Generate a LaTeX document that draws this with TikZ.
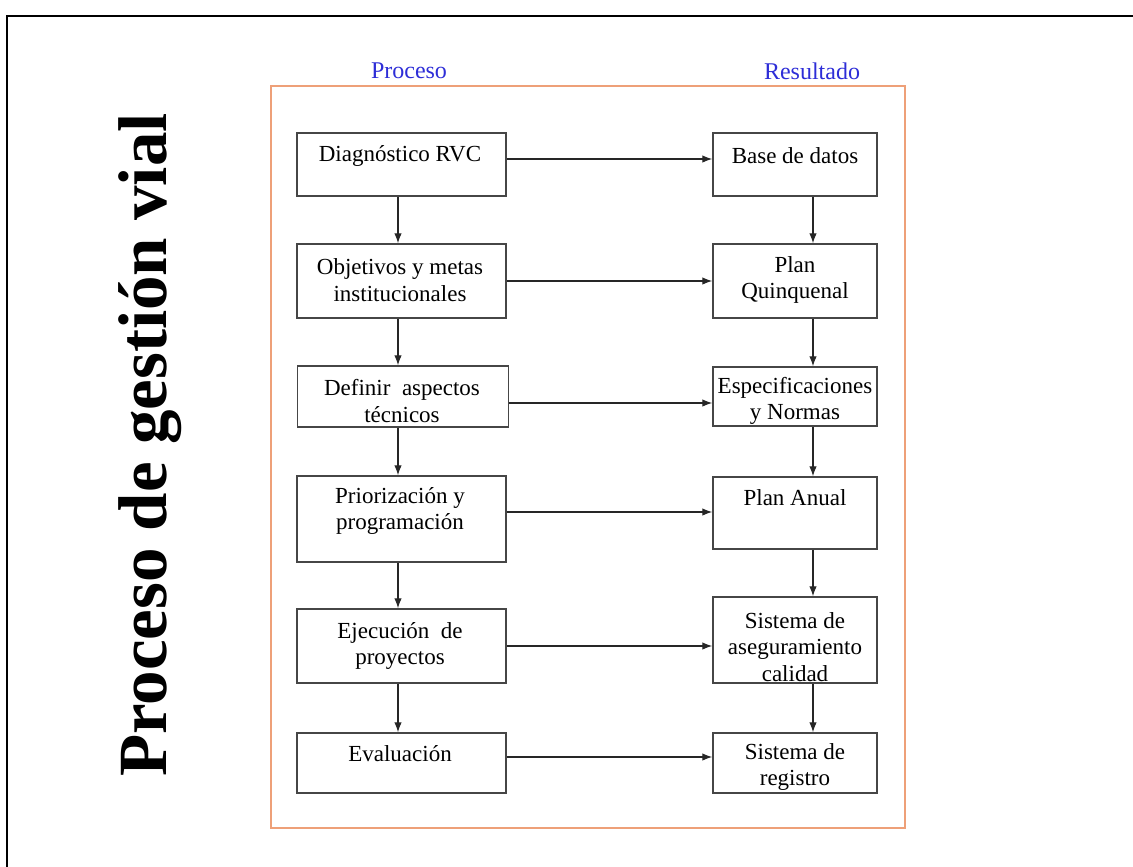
\documentclass[tikz,border=0pt]{standalone}
\usepackage{fontspec}
\setmainfont{Liberation Serif}
\usetikzlibrary{arrows.meta}
\definecolor{frameorange}{RGB}{238,160,120}
\definecolor{headblue}{RGB}{45,45,215}
\definecolor{boxgray}{RGB}{70,70,70}
\tikzset{
  procbox/.style={draw=boxgray, line width=1.5pt, rectangle, inner sep=0pt},
  boxtext/.style={align=center, inner sep=0pt, font=\fontsize{23}{26.5}\selectfont},
  headtext/.style={text=headblue, inner sep=0pt, font=\fontsize{24}{28}\selectfont},
  arr/.style={draw=black!85, line width=1.2pt, -{Latex[length=10pt,width=7.5pt]}},
}
\begin{document}
\begin{tikzpicture}[x=1pt,y=-1pt]
\useasboundingbox (0,0) rectangle (1133,867);
% outer frame (top and left visible)
\coordinate (fa) at (7,867);
\coordinate (fb) at (7,16);
\coordinate (fc) at (1133,16);
\draw[black, line width=2.2pt] (fa) -- (fb) -- (fc);
% title
\node[rotate=90, anchor=base, inner sep=0pt, font=\fontsize{69}{72}\selectfont\bfseries] (title) at (166,445) {Proceso de gestión vial};
% orange frame
\node[draw=frameorange, line width=1.3pt, minimum width=634pt, minimum height=742pt, inner sep=0pt] (orange) at (588,457) {};
% headers
\node[headtext] (hp) at (409,71) {Proceso};
\node[headtext] (hr) at (812,71) {Resultado};
% left boxes
\node[procbox, minimum width=209pt, minimum height=63pt] (l1) at (401.5,164.5) {};
\node[procbox, minimum width=209pt, minimum height=74pt] (l2) at (401.5,281) {};
\node[procbox, minimum width=211pt, minimum height=61pt] (l3) at (403,396.5) {};
\node[procbox, minimum width=209pt, minimum height=86pt] (l4) at (401.5,519) {};
\node[procbox, minimum width=209pt, minimum height=74pt] (l5) at (401.5,646) {};
\node[procbox, minimum width=209pt, minimum height=60pt] (l6) at (401.5,763) {};
% right boxes
\node[procbox, minimum width=164pt, minimum height=63pt] (r1) at (795,164.5) {};
\node[procbox, minimum width=164pt, minimum height=74pt] (r2) at (795,281) {};
\node[procbox, minimum width=164pt, minimum height=59pt] (r3) at (795,396.5) {};
\node[procbox, minimum width=164pt, minimum height=72pt] (r4) at (795,513) {};
\node[procbox, minimum width=164pt, minimum height=86pt] (r5) at (795,640) {};
\node[procbox, minimum width=164pt, minimum height=60pt] (r6) at (795,763) {};
% texts
\node[boxtext] (tl1) at (400,156) {Diagnóstico RVC};
\node[boxtext] (tl2) at (400,280) {Objetivos y metas\\institucionales};
\node[boxtext] (tl3) at (402,401) {Definir\ \ aspectos\\técnicos};
\node[boxtext] (tl4) at (400,511) {Priorización y\\programación};
\node[boxtext] (tl5) at (400,646) {Ejecución\ \ de\\proyectos};
\node[boxtext] (tl6) at (400,754) {Evaluación};
\node[boxtext] (tr1) at (795,156) {Base de datos};
\node[boxtext] (tr2) at (795,280) {Plan\\Quinquenal};
\node[boxtext] (tr3) at (795,401) {Especificaciones\\y Normas};
\node[boxtext] (tr4) at (795,498) {Plan Anual};
\node[boxtext] (tr5) at (795,647) {Sistema de\\aseguramiento\\calidad};
\node[boxtext] (tr6) at (795,767) {Sistema de\\registro};
% horizontal arrows
\draw[arr] (l1.east |- 0,159) -- (r1.west |- 0,159);
\draw[arr] (l2.east |- 0,281) -- (r2.west |- 0,281);
\draw[arr] (l3.east |- 0,403) -- (r3.west |- 0,403);
\draw[arr] (l4.east |- 0,512) -- (r4.west |- 0,512);
\draw[arr] (l5.east |- 0,646) -- (r5.west |- 0,646);
\draw[arr] (l6.east |- 0,757) -- (r6.west |- 0,757);
% vertical arrows left
\draw[arr] (l1.south -| 398,0) -- (l2.north -| 398,0);
\draw[arr] (l2.south -| 398,0) -- (l3.north -| 398,0);
\draw[arr] (l3.south -| 398,0) -- (l4.north -| 398,0);
\draw[arr] (l4.south -| 398,0) -- (l5.north -| 398,0);
\draw[arr] (l5.south -| 398,0) -- (l6.north -| 398,0);
% vertical arrows right
\draw[arr] (r1.south -| 813,0) -- (r2.north -| 813,0);
\draw[arr] (r2.south -| 813,0) -- (r3.north -| 813,0);
\draw[arr] (r3.south -| 813,0) -- (r4.north -| 813,0);
\draw[arr] (r4.south -| 813,0) -- (r5.north -| 813,0);
\draw[arr] (r5.south -| 813,0) -- (r6.north -| 813,0);
\end{tikzpicture}
\end{document}
